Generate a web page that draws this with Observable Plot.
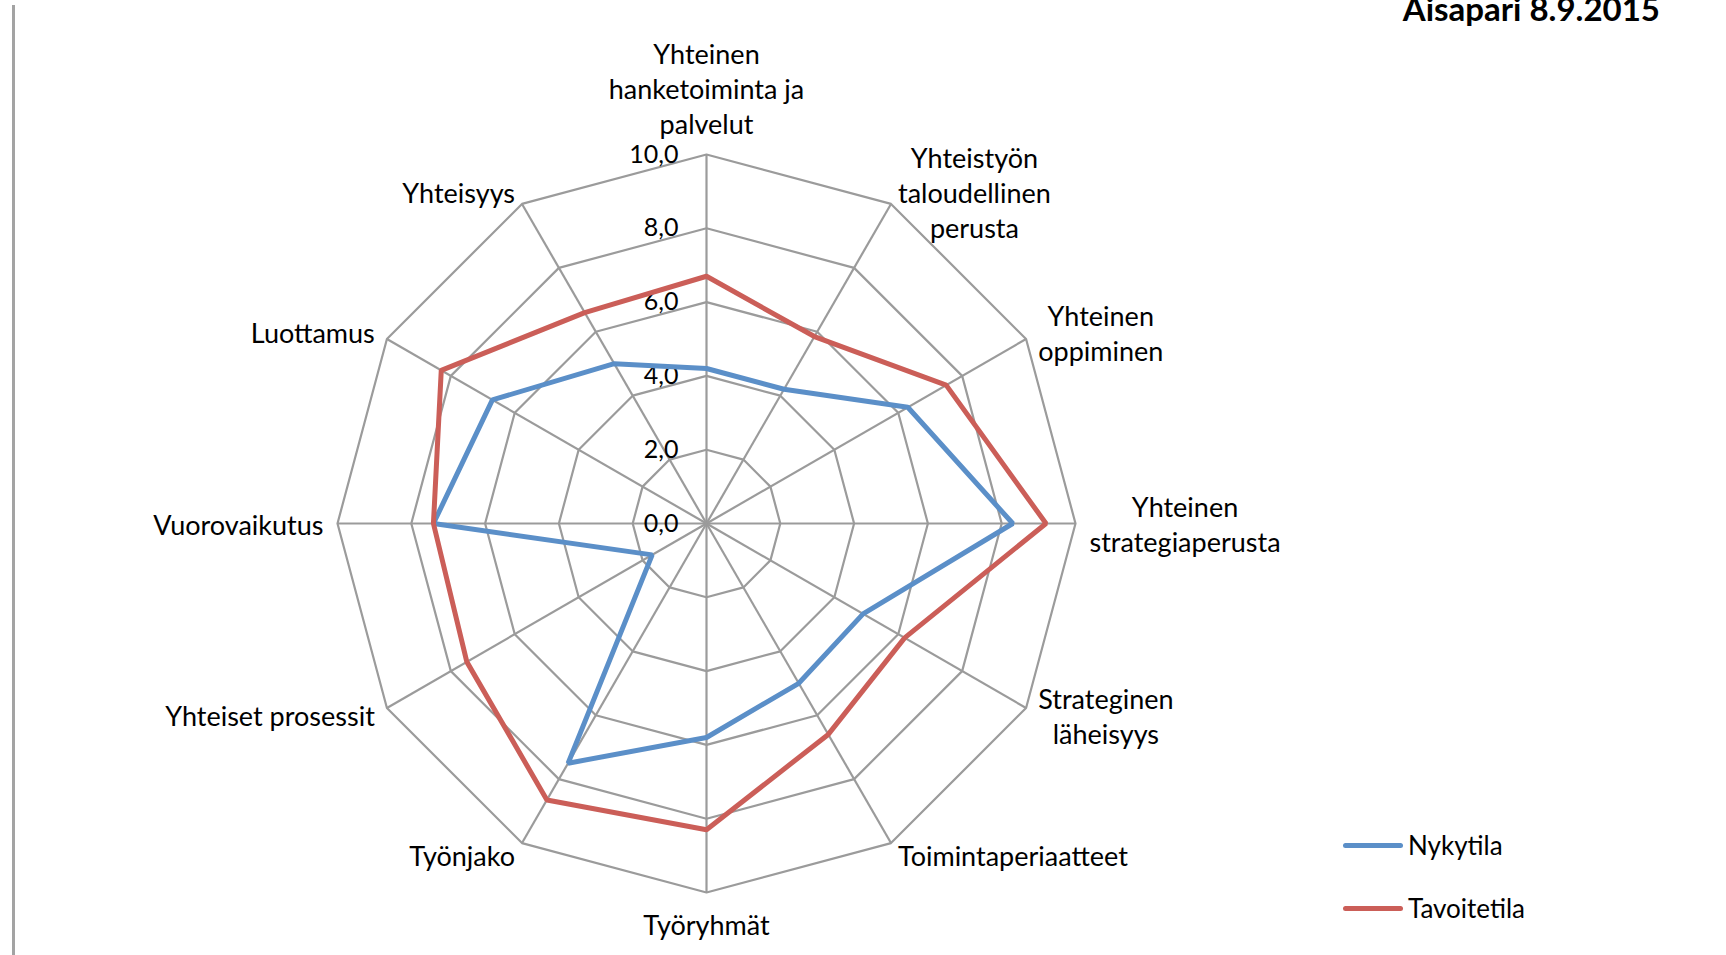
<!DOCTYPE html>
<html>
<head>
<meta charset="utf-8">
<script src="https://cdn.jsdelivr.net/npm/d3@7"></script>
<script src="https://cdn.jsdelivr.net/npm/@observablehq/plot@0.6"></script>
<style>
  html, body { margin: 0; padding: 0; background: #ffffff; overflow: hidden; }
  #wrap { position: relative; width: 1726px; height: 955px; font-family: Lato, "Open Sans", sans-serif; color: #000; }
  #border { position: absolute; left: 12px; top: 5px; width: 3px; height: 950px; background: #a3a3a3; }
  #title { position: absolute; right: 66px; top: -8px; font-weight: bold; font-size: 33px; line-height: 33px; white-space: nowrap; }
  #legend { position: absolute; left: 1343px; top: 828px; }
  .item { display: flex; align-items: center; height: 34px; margin-bottom: 29px; font-size: 26px; }
  .swatch { width: 60px; height: 5px; border-radius: 3px; margin-right: 5px; }
  #chart { position: absolute; left: 0; top: 0; }
</style>
</head>
<body>
<div id="wrap">
  <div id="chart"></div>
  <div id="border"></div>
  <div id="title">Aisapari 8.9.2015</div>
  <div id="legend"></div>
</div>
<script>
// ---- data ----
const categories = [
  "Yhteinen\nhanketoiminta ja\npalvelut",
  "Yhteistyön\ntaloudellinen\nperusta",
  "Yhteinen\noppiminen",
  "Yhteinen\nstrategiaperusta",
  "Strateginen\nläheisyys",
  "Toimintaperiaatteet",
  "Työryhmät",
  "Työnjako",
  "Yhteiset prosessit",
  "Vuorovaikutus",
  "Luottamus",
  "Yhteisyys"
];
const nykytila    = [4.2, 4.2, 6.3, 8.3, 4.9, 5.0, 5.8, 7.5, 1.7, 7.4, 6.7, 5.0];
const tavoitetila = [6.7, 5.85, 7.5, 9.2, 6.2, 6.6, 8.3, 8.65, 7.5, 7.4, 8.3, 6.6];
const seriesNames = ["Nykytila", "Tavoitetila"];
const ticks = [0, 2, 4, 6, 8, 10];
const tickLabels = ["0,0", "2,0", "4,0", "6,0", "8,0", "10,0"];

// ---- styles / layout ----
const seriesColors = ["#5B8FC8", "#CB5E58"];
const gridColor = "#9b9b9b";
const W = 1726, H = 955, CX = 706, CY = 523, R = 369, MAX = 10;
const FS = 27, TFS = 25, LH = 35, GAP = 14;

async function draw() {
  try { await document.fonts.load(`${FS}px Lato`); } catch (e) {}
  const k = MAX / R;
  const n = categories.length;
  const ang = i => i * 2 * Math.PI / n;
  const pol = (i, r) => ({x: r * Math.sin(ang(i)), y: r * Math.cos(ang(i))});

  const rings = ticks.filter(t => t > 0).flatMap(t => categories.map((c, i) => ({ring: t, ...pol(i, t)})));
  const spokes = categories.map((c, i) => { const p = pol(i, MAX); return {x2: p.x, y2: p.y}; });
  const seriesData = [nykytila, tavoitetila];
  const pts = seriesNames.flatMap((s, si) => seriesData[si].map((v, i) => ({series: s, ...pol(i, v)})));

  const ctx = document.createElement("canvas").getContext("2d");
  ctx.font = `${FS}px Lato`;
  const labels = categories.map((c, i) => {
    const lines = c.split("\n");
    const w = Math.max(...lines.map(l => ctx.measureText(l).width));
    const h = lines.length * LH;
    const s = Math.sin(ang(i)), co = Math.cos(ang(i));
    let px = CX + (R + GAP) * s, py = CY - (R + GAP) * co;
    if (s > 0.1) px += w / 2; else if (s < -0.1) px -= w / 2;
    if (co > 0.95) py -= h / 2; else if (co < -0.95) py += h / 2;
    return {text: c, x: (px - CX) * k, y: -(py - CY) * k};
  });

  const chart = Plot.plot({
    width: W, height: H, margin: 0,
    x: {domain: [-CX * k, (W - CX) * k], range: [0, W], axis: null},
    y: {domain: [-(H - CY) * k, CY * k], range: [H, 0], axis: null},
    color: {domain: seriesNames, range: seriesColors},
    style: {fontFamily: "Lato, 'Open Sans', sans-serif", background: "transparent", overflow: "visible"},
    marks: [
      Plot.line(rings, {x: "x", y: "y", z: "ring", curve: "linear-closed", stroke: gridColor, strokeWidth: 2.2}),
      Plot.link(spokes, {x1: () => 0, y1: () => 0, x2: "x2", y2: "y2", stroke: gridColor, strokeWidth: 2.2}),
      Plot.text(ticks, {x: () => 0, y: d => d, text: (d, i) => tickLabels[i], textAnchor: "end", dx: -28, lineAnchor: "middle", fill: "#000", fontSize: TFS}),
      Plot.line(pts, {x: "x", y: "y", stroke: "series", curve: "linear-closed", strokeWidth: 5, strokeLinejoin: "miter"}),
      Plot.text(labels, {x: "x", y: "y", text: "text", lineAnchor: "middle", lineHeight: LH / FS, fill: "#000", fontSize: FS})
    ]
  });
  document.getElementById("chart").appendChild(chart);

  const legend = document.getElementById("legend");
  seriesNames.forEach((s, i) => {
    const item = document.createElement("div");
    item.className = "item";
    const sw = document.createElement("div");
    sw.className = "swatch";
    sw.style.background = seriesColors[i];
    const t = document.createElement("span");
    t.textContent = s;
    item.appendChild(sw); item.appendChild(t);
    legend.appendChild(item);
  });
}
draw();
</script>
</body>
</html>
